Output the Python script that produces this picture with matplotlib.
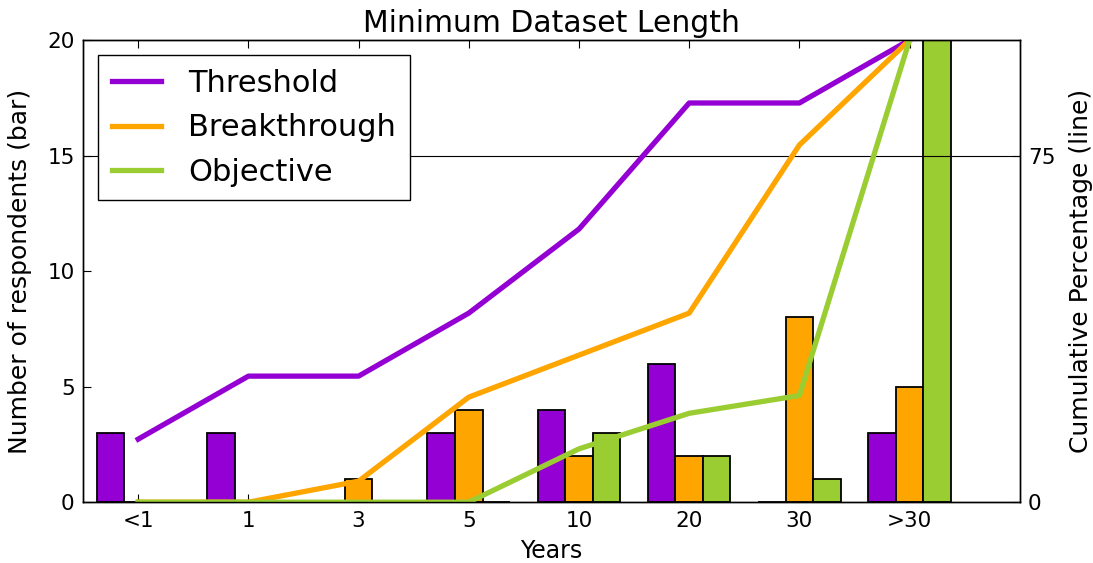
import numpy as np
import matplotlib
matplotlib.use("Agg")
import matplotlib.pyplot as plt

### Data
categories = ["<1", "1", "3", "5", "10", "20", "30", ">30"]
threshold = [3, 3, 0, 3, 4, 6, 0, 3]
breakthrough = [0, 0, 1, 4, 2, 2, 8, 5]
objective = [0, 0, 0, 0, 3, 2, 1, 20]
series_names = ["Threshold", "Breakthrough", "Objective"]
colors = ["#9400D3", "#FFA500", "#9ACD32"]

plt.rcParams["font.family"] = "DejaVu Sans"

fig = plt.figure(figsize=(10.93, 5.63), dpi=100, facecolor="white")
ax = fig.add_axes([0.076, 0.108, 0.857, 0.821])
ax2 = ax.twinx()

x = np.arange(len(categories))
w = 0.25
series = [threshold, breakthrough, objective]

# Bars (counts) on the left axis
for i, vals in enumerate(series):
    ax.bar(x + (i - 1) * w, vals, width=w, color=colors[i], ec="black", lw=1.3, zorder=2)

# Cumulative percentage lines on the right axis
ax2.axhline(75, color="black", lw=0.8, zorder=1)
for i, vals in enumerate(series):
    cum = np.cumsum(vals) / np.sum(vals) * 100
    ax2.plot(x, cum, color=colors[i], lw=3.8, label=series_names[i], zorder=2)

ax.set_xlim(-0.5, 8)
ax.set_ylim(0, 20)
ax2.set_ylim(0, 100)
ax.set_xticks(x)
ax.set_xticklabels(categories)
ax.set_yticks([0, 5, 10, 15, 20])
ax2.set_yticks([0, 75])

fs_t = 15.5
ax.tick_params(axis="both", direction="in", length=6, labelsize=fs_t, pad=6,
               top=True, right=False)
ax2.tick_params(axis="y", direction="in", length=6, labelsize=fs_t, pad=6)

ax.set_xlabel("Years", fontsize=17, labelpad=6)
ax.set_ylabel("Number of respondents (bar)", fontsize=18, labelpad=11)
ax2.set_ylabel("Cumulative Percentage (line)", fontsize=18, labelpad=10)
ax.set_title("Minimum Dataset Length", fontsize=21.5, pad=6)

for a in (ax, ax2):
    for sp in a.spines.values():
        sp.set_linewidth(1.0)

leg = ax2.legend(loc="upper left", fontsize=22, fancybox=False, framealpha=1,
                 edgecolor="black", handlelength=1.6, handletextpad=0.9,
                 borderpad=0.45, labelspacing=0.5, borderaxespad=0.5)
leg.get_frame().set_linewidth(1.0)

plt.savefig("out.png", dpi=100)
